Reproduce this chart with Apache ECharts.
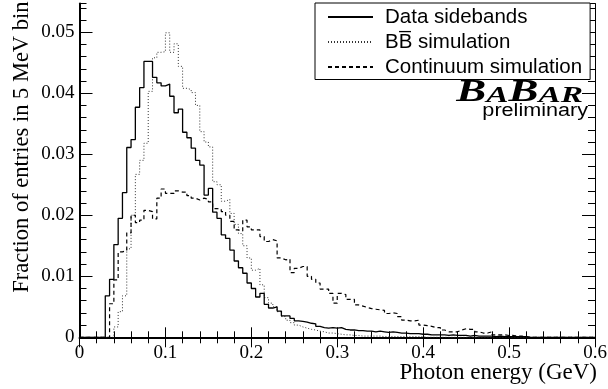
<!DOCTYPE html>
<html><head><meta charset="utf-8">
<script src="https://cdn.jsdelivr.net/npm/echarts@6/dist/echarts.min.js"></script>
<style>html,body{margin:0;padding:0;background:#fff}#c{width:608px;height:389px}</style>
</head><body><div id="c"></div>
<script>
// ---- data ----
const BIN_WIDTH = 0.005;          // 5 MeV bins
const X_MIN = 0, X_MAX = 0.6;
const Y_MAX = 0.0547;
const xTickLabels = ['0', '0.1', '0.2', '0.3', '0.4', '0.5', '0.6'];
const yTickLabels = ['0', '0.01', '0.02', '0.03', '0.04', '0.05'];
const seriesNames = ['Data sidebands', 'BB\u0305 simulation', 'Continuum simulation'];

const dataSidebands = [
  0, 0, 0, 0, 0, 0, 0.0068, 0.0095, 0.0152, 0.0195,
  0.0237, 0.0311, 0.0324, 0.0377, 0.0409, 0.0452, 0.0452, 0.0426, 0.0417, 0.0412,
  0.0415, 0.0395, 0.0368, 0.0374, 0.0336, 0.0327, 0.0310, 0.0290, 0.0282, 0.0233,
  0.0244, 0.0205, 0.0195, 0.0168, 0.0162, 0.0143, 0.0125, 0.0114, 0.0105, 0.0089,
  0.0080, 0.0066, 0.0072, 0.0054, 0.0048, 0.0050, 0.0043, 0.0035, 0.0035, 0.0031,
  0.0027, 0.0026, 0.0025, 0.0023, 0.0022, 0.0018, 0.0016, 0.0015, 0.0016, 0.0015,
  0.0016, 0.0013, 0.0012, 0.0012, 0.0011, 0.0011, 0.0010, 0.0010, 0.0009, 0.0010,
  0.0009, 0.0008, 0.0009, 0.0008, 0.0007, 0.0007, 0.0006, 0.0006, 0.0006, 0.0005,
  0.0005, 0.0004, 0.0004, 0.0004, 0.0004, 0.0003, 0.0004, 0.0003, 0.0003, 0.0003,
  0.0002, 0.0003, 0.0002, 0.0002, 0.0002, 0.0002, 0.0001, 0.0002, 0.0001, 0.0001,
  0.0001, 0.0001, 0.0001, 0.0001, 0, 0, 0, 0, 0, 0,
  0, 0, 0, 0, 0, 0, 0, 0, 0, 0
];
const bbSimulation = [
  0, 0, 0, 0, 0, 0, 0, 0, 0.0017, 0.0042,
  0.0068, 0.0145, 0.0200, 0.0267, 0.0290, 0.0318, 0.0403, 0.0458, 0.0467, 0.0468,
  0.0499, 0.0467, 0.0481, 0.0444, 0.0408, 0.0406, 0.0401, 0.0380, 0.0337, 0.0320,
  0.0312, 0.0255, 0.0250, 0.0223, 0.0226, 0.0203, 0.0185, 0.0170, 0.0150, 0.0130,
  0.0110, 0.0113, 0.0086, 0.0065, 0.0056, 0.0050, 0.0042, 0.0034, 0.0028, 0.0024,
  0.0020, 0.0017, 0.0015, 0.0013, 0.0012, 0.0010, 0.0009, 0.0007, 0.0007, 0.0006,
  0.0005, 0.0004, 0.0004, 0.0003, 0.0003, 0.0002, 0.0002, 0.0002, 0.0002, 0.0002,
  0.0001, 0.0001, 0.0001, 0.0001, 0.0001, 0.0001, 0.0001, 0.0001, 0.0001, 0.0001,
  0, 0, 0, 0, 0, 0, 0, 0, 0, 0,
  0, 0, 0, 0, 0, 0, 0, 0, 0, 0,
  0, 0, 0, 0, 0, 0, 0, 0, 0, 0,
  0, 0, 0, 0, 0, 0, 0, 0, 0, 0
];
const continuumSimulation = [
  0, 0, 0, 0, 0, 0, 0, 0.0055, 0.0094, 0.0140,
  0.0142, 0.0171, 0.0200, 0.0188, 0.0192, 0.0208, 0.0206, 0.0194, 0.0228, 0.0243,
  0.0236, 0.0236, 0.0240, 0.0238, 0.0238, 0.0232, 0.0228, 0.0225, 0.0228, 0.0226,
  0.0222, 0.0211, 0.0210, 0.0206, 0.0200, 0.0190, 0.0176, 0.0174, 0.0192, 0.0181,
  0.0176, 0.0176, 0.0165, 0.0157, 0.0160, 0.0158, 0.0130, 0.0127, 0.0128, 0.0106,
  0.0113, 0.0116, 0.0116, 0.0100, 0.0095, 0.0089, 0.0079, 0.0079, 0.0072, 0.0056,
  0.0072, 0.0070, 0.0062, 0.0062, 0.0053, 0.0051, 0.0049, 0.0047, 0.0046, 0.0045,
  0.0044, 0.0039, 0.0040, 0.0039, 0.0034, 0.0028, 0.0027, 0.0027, 0.0028, 0.0020,
  0.0019, 0.0018, 0.0016, 0.0016, 0.0012, 0.0009, 0.0009, 0.0009, 0.0012, 0.0014,
  0.0013, 0.0013, 0.0009, 0.0007, 0.0007, 0.0009, 0.0004, 0.0004, 0.0004, 0.0003,
  0.0003, 0.0002, 0.0002, 0.0001, 0, 0, 0, 0, 0, 0,
  0, 0, 0, 0, 0, 0, 0, 0, 0, 0
];

// ---- build histogram step data from bin edges ----
function histData(vals) {
  const d = vals.map((v, i) => [+(X_MIN + i * BIN_WIDTH).toFixed(4), v]);
  d.push([+(X_MIN + vals.length * BIN_WIDTH).toFixed(4), vals[vals.length - 1]]);
  return d;
}

const SERIF = 'Liberation Serif';
const SANS = 'Liberation Sans';
const BLACK = '#000';

function xFmt(v) { const i = Math.round(v / 0.1); return xTickLabels[i] !== undefined ? xTickLabels[i] : ''; }
function yFmt(v) { const i = Math.round(v / 0.01); return yTickLabels[i] !== undefined ? yTickLabels[i] : ''; }

const baseX = {
  type: 'value', min: X_MIN, max: X_MAX, interval: 0.1,
  splitLine: { show: false },
  axisTick: { show: true, inside: true, length: 10, lineStyle: { color: BLACK, width: 1 } },
  minorTick: { show: true, splitNumber: 5, length: 6, lineStyle: { color: BLACK, width: 1 } },
  minorSplitLine: { show: false }
};
const baseY = {
  type: 'value', min: 0, max: Y_MAX,
  splitLine: { show: false }
};

const chart = echarts.init(document.getElementById('c'), null, { renderer: 'canvas' });
chart.setOption({
  animation: false,
  backgroundColor: '#fff',
  grid: { left: 79.5, right: 13, top: 3.5, bottom: 51.7, containLabel: false, outerBoundsMode: 'none' },
  xAxis: [
    Object.assign({}, baseX, {
      position: 'bottom',
      axisLine: { show: true, lineStyle: { color: BLACK, width: 2 } },
      axisLabel: { show: true, margin: 6, color: BLACK, fontFamily: SERIF, fontSize: 19, formatter: xFmt },
      name: 'Photon energy (GeV)', nameLocation: 'end', nameGap: 2, nameMoveOverlap: false,
      nameTextStyle: { fontFamily: SERIF, fontSize: 23, color: BLACK, align: 'right', verticalAlign: 'top', padding: [24, 0, 0, 0] }
    }),
    Object.assign({}, baseX, {
      position: 'top',
      axisLine: { show: true, lineStyle: { color: BLACK, width: 1 } },
      axisLabel: { show: false }
    })
  ],
  yAxis: [
    Object.assign({}, baseY, {
      position: 'left', interval: 0.01,
      axisLine: { show: true, lineStyle: { color: BLACK, width: 2 } },
      axisTick: { show: true, inside: true, length: 13, lineStyle: { color: BLACK, width: 1 } },
      axisLabel: { show: true, margin: 5, color: BLACK, fontFamily: SERIF, fontSize: 19, formatter: yFmt, showMaxLabel: false },
      name: 'Fraction of entries in 5 MeV bin', nameLocation: 'end', nameGap: 2, nameRotate: 90, nameMoveOverlap: false,
      nameTextStyle: { fontFamily: SERIF, fontSize: 22.5, color: BLACK, align: 'right', verticalAlign: 'bottom', padding: [0, 0, 46, 0] }
    }),
    Object.assign({}, baseY, {
      position: 'left', interval: 0.002,
      axisLine: { show: false },
      axisTick: { show: true, inside: true, length: 7, lineStyle: { color: BLACK, width: 1 } },
      axisLabel: { show: false }
    }),
    Object.assign({}, baseY, {
      position: 'right', interval: 0.01,
      axisLine: { show: true, lineStyle: { color: BLACK, width: 1 } },
      axisTick: { show: true, inside: true, length: 13, lineStyle: { color: BLACK, width: 1 } },
      axisLabel: { show: false }
    }),
    Object.assign({}, baseY, {
      position: 'right', interval: 0.002,
      axisLine: { show: false },
      axisTick: { show: true, inside: true, length: 7, lineStyle: { color: BLACK, width: 1 } },
      axisLabel: { show: false }
    })
  ],
  legend: {
    orient: 'vertical', left: 315, top: 3,
    padding: [1.5, 8, 0, 12],
    itemWidth: 45, itemHeight: 14, itemGap: 0,
    itemStyle: { opacity: 0 },
    backgroundColor: '#fff', borderColor: BLACK, borderWidth: 1, borderRadius: 0,
    textStyle: { fontFamily: SANS, fontSize: 20.5, color: BLACK, lineHeight: 25, padding: [0, 0, 0, 7] },
    data: seriesNames
  },
  graphic: [
    {
      type: 'text', x: 583, y: 108, scaleX: 1.45, z: 10,
      style: {
        text: '{b|B}{s|A}{b|B}{s|AR}', align: 'right', verticalAlign: 'bottom',
        rich: {
          b: { fontFamily: SERIF, fontStyle: 'italic', fontWeight: 'bold', fontSize: 31, fill: BLACK, verticalAlign: 'bottom' },
          s: { fontFamily: SERIF, fontStyle: 'italic', fontWeight: 'bold', fontSize: 23, fill: BLACK, verticalAlign: 'bottom' }
        }
      }
    },
    {
      type: 'text', x: 588, y: 120, scaleX: 1.2, z: 10,
      style: { text: 'preliminary', fontFamily: SANS, fontSize: 18, fill: BLACK, align: 'right', verticalAlign: 'bottom' }
    }
  ],
  series: [
    {
      name: seriesNames[0], type: 'line', step: 'end', symbol: 'none', xAxisIndex: 0, yAxisIndex: 0,
      data: histData(dataSidebands), lineStyle: { color: BLACK, width: 1.3, type: 'solid' }, itemStyle: { color: BLACK }, z: 3
    },
    {
      name: seriesNames[1], type: 'line', step: 'end', symbol: 'none', xAxisIndex: 0, yAxisIndex: 0,
      data: histData(bbSimulation), lineStyle: { color: '#333', width: 1, type: [1, 2] }, itemStyle: { color: '#333' }, z: 2
    },
    {
      name: seriesNames[2], type: 'line', step: 'end', symbol: 'none', xAxisIndex: 0, yAxisIndex: 0,
      data: histData(continuumSimulation), lineStyle: { color: BLACK, width: 1.2, type: [4, 3] }, itemStyle: { color: BLACK }, z: 2
    }
  ]
});
</script>
</body></html>
